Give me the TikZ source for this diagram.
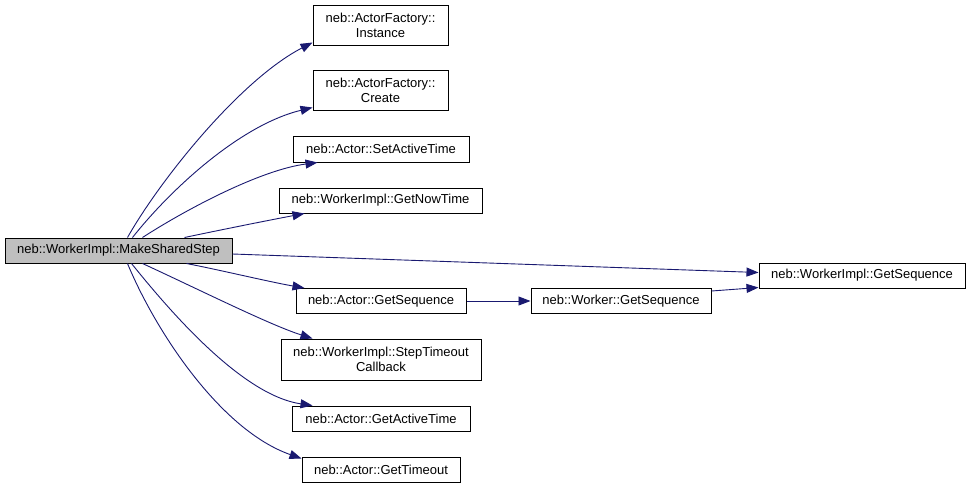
\documentclass[tikz,border=0pt]{standalone}
\usepackage{fontspec}
\setmainfont{Liberation Sans}
\usetikzlibrary{arrows.meta}
\definecolor{edgeblue}{HTML}{191970}
\definecolor{maingray}{HTML}{BFBFBF}
\tikzset{
  fn/.style={draw=black, line width=1pt, fill=white, rectangle, inner sep=0pt, align=center,
    font=\fontsize{13}{15}\selectfont},
  call/.style={draw=edgeblue, line width=0.9pt, -{Triangle[length=12pt,width=9pt]}, edgeblue},
}
\begin{document}
\begin{tikzpicture}[x=1pt,y=-1pt]
\useasboundingbox (0,0) rectangle (971,488);
\node[fn, fill=maingray, minimum width=227, minimum height=25] (main) at (118.5,250.5) {neb::WorkerImpl::MakeSharedStep};
\node[fn, minimum width=135, minimum height=40] (inst) at (380.5,25) {neb::ActorFactory::\\Instance};
\node[fn, minimum width=135, minimum height=40] (create) at (380.5,90) {neb::ActorFactory::\\Create};
\node[fn, minimum width=176, minimum height=26] (sat) at (381,149) {neb::Actor::SetActiveTime};
\node[fn, minimum width=203, minimum height=25] (gnt) at (380.5,200.5) {neb::WorkerImpl::GetNowTime};
\node[fn, minimum width=170, minimum height=25] (ags) at (381,301) {neb::Actor::GetSequence};
\node[fn, minimum width=200, minimum height=41] (st) at (381,359.5) {neb::WorkerImpl::StepTimeout\\Callback};
\node[fn, minimum width=178, minimum height=25] (gat) at (381,418.5) {neb::Actor::GetActiveTime};
\node[fn, minimum width=158, minimum height=25] (gto) at (381,469.5) {neb::Actor::GetTimeout};
\node[fn, minimum width=206, minimum height=25] (wigs) at (862,275.5) {neb::WorkerImpl::GetSequence};
\node[fn, minimum width=180, minimum height=25] (wgs) at (621,301) {neb::Worker::GetSequence};

\draw[call] ([xshift=123pt]main.north west) .. controls (160,180) and (240,80) .. ([yshift=3pt]inst.south west);
\draw[call] ([xshift=128pt]main.north west) .. controls (170,190) and (240,125) .. ([yshift=3pt]create.south west);
\draw[call] ([xshift=138pt]main.north west) .. controls (185,210) and (260,170) .. ([xshift=25pt]sat.south west);
\draw[call] ([xshift=180pt]main.north west) .. controls (220,230) and (270,220) .. ([xshift=26pt]gnt.south west);
\draw[call] ([yshift=-3.5pt]main.east) -- ([yshift=3pt]wigs.west);
\draw[call] ([xshift=182pt]main.south west) .. controls (220,270) and (270,282) .. ([xshift=9pt]ags.north west);
\draw[call] ([xshift=138pt]main.south west) .. controls (200,290) and (270,325) .. ([xshift=32pt]st.north west);
\draw[call] ([xshift=127pt]main.south west) .. controls (165,305) and (240,395) .. ([xshift=21pt]gat.north west);
\draw[call] ([xshift=123pt]main.south west) .. controls (155,330) and (220,430) .. ([yshift=-2pt]gto.north west);
\draw[call] (ags.east) -- (wgs.west);
\draw[call] ([yshift=-3pt]wgs.north east) -- ([yshift=1pt]wigs.south west);
\end{tikzpicture}
\end{document}
